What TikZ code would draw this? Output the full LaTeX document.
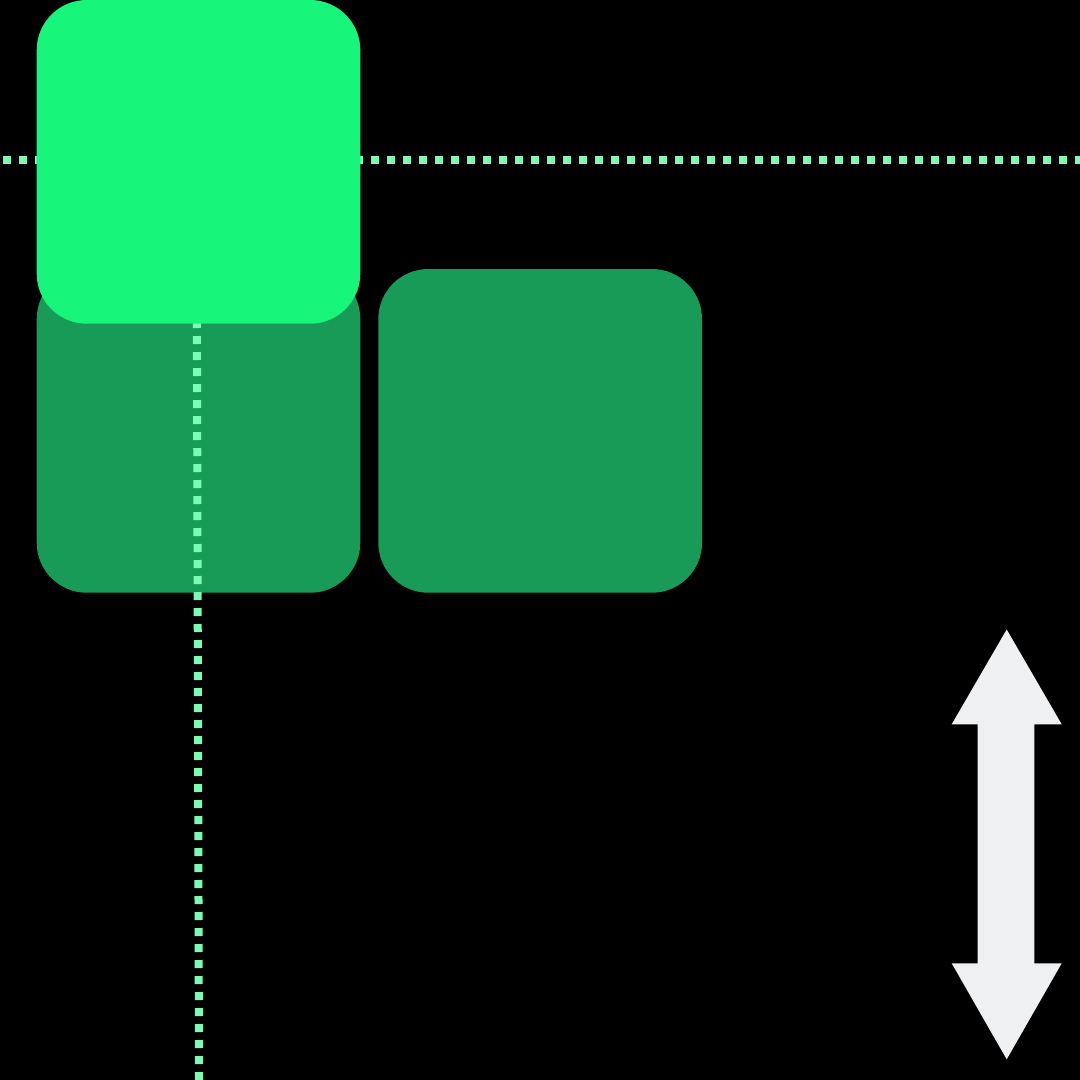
\documentclass[tikz,border=0pt]{standalone}
\usepackage{tikz}
\definecolor{brightgreen}{RGB}{23,245,122}
\definecolor{darkgreen}{RGB}{24,155,86}
\definecolor{dotgreen}{RGB}{125,251,178}
\definecolor{arrowgray}{RGB}{239,240,242}
\tikzset{
  card/.style={rounded corners=50pt},
  dotline/.style={draw=dotgreen, line width=8pt, dash pattern=on 8pt off 8pt},
}
\begin{document}
\begin{tikzpicture}[x=1pt,y=-1pt]
\fill[black] (0,0) rectangle (1080,1080);
\useasboundingbox (0,0) rectangle (1080,1080);
% dark cards
\fill[darkgreen, card] (36.7,269) rectangle (360.3,592.7);
\fill[darkgreen, card] (378.3,269) rectangle (702,592.7);
% dotted guides
\draw[dotline] (196,0) -- (199,1080);
\draw[dotline] (3,160) -- (1080,160);
% bright card
\fill[brightgreen, card] (36.7,0) rectangle (360.3,323.7);
% double arrow
\fill[arrowgray] (1006.7,629.5) -- (1061.7,724.3) -- (1034.3,724.3) -- (1034.3,963.3)
  -- (1061.7,963.3) -- (1006.7,1059.3) -- (951.7,963.3) -- (977.7,963.3)
  -- (977.7,724.3) -- (951.7,724.3) -- cycle;
\end{tikzpicture}
\end{document}
